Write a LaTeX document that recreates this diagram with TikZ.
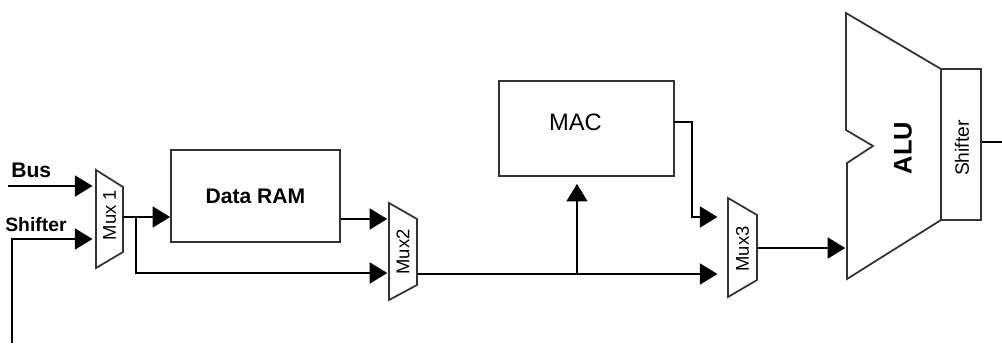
\documentclass[tikz,border=0pt]{standalone}
\usepackage{fontspec}
\setmainfont{Liberation Sans}
\usetikzlibrary{arrows.meta,positioning}

\begin{document}
\begin{tikzpicture}[x=0.02cm, y=-0.02cm,
    sig/.style={draw=black, line width=0.9pt, -{Triangle[length=10pt, width=12pt]}},
    wire/.style={draw=black, line width=0.9pt},
    unit/.style={rectangle, draw=black!80, line width=1pt, inner sep=0pt},
    muxshape/.style={draw=black!80, line width=1pt, line join=miter},
    muxlabel/.style={rotate=90, font=\fontsize{10.5}{11}\selectfont, inner sep=0pt},
    inlabel/.style={font=\fontsize{12}{14}\selectfont\bfseries, inner sep=0pt}
]
\useasboundingbox (0,0) rectangle (1002,346);

% input labels
\node[inlabel, anchor=base west] (buslbl) at (11,177) {Bus};
\node[inlabel, font=\fontsize{11}{13}\selectfont\bfseries, anchor=base west] (shiftlbl) at (5,231) {Shifter};

% multiplexers
\draw[muxshape] (96,170) -- (123,187) -- (123,252) -- (96,268) -- cycle;
\node[muxlabel] (mux1) at (109.5,215) {Mux 1};
\coordinate (mux1in1) at (96,186);
\coordinate (mux1in2) at (96,239);
\coordinate (mux1out) at (123,217);

\draw[muxshape] (389,203) -- (417,219) -- (417,285) -- (389,300) -- cycle;
\node[muxlabel] (mux2) at (403,252) {Mux2};
\coordinate (mux2in1) at (389,219);
\coordinate (mux2in2) at (389,273);
\coordinate (mux2out) at (417,274);

\draw[muxshape] (728,198) -- (757,215) -- (757,280) -- (728,297) -- cycle;
\node[muxlabel] (mux3) at (742.5,249) {Mux3};
\coordinate (mux3in1) at (728,217);
\coordinate (mux3in2) at (728,274);
\coordinate (mux3out) at (757,248);

% units
\node[unit, minimum width=3.38cm, minimum height=1.84cm,
      font=\fontsize{12}{14}\selectfont\bfseries] (ram) at (255.5,196) {Data RAM};
\node[unit, minimum width=3.5cm, minimum height=1.9cm] (mac) at (586.5,128.5) {};
\node[font=\fontsize{13.5}{15}\selectfont, inner sep=0pt] (maclbl) at (575.5,122.5) {MAC};

% ALU with output shifter
\draw[muxshape] (846,13) -- (941,69) -- (941,220) -- (847,279) -- (847,163)
    -- (873,146) -- (846,130) -- cycle;
\node[rotate=90, font=\fontsize{14.5}{16}\selectfont\bfseries, inner sep=0pt] (alu) at (903,148) {ALU};
\coordinate (aluin) at (847,248);
\node[unit, minimum width=0.8cm, minimum height=3.02cm] (shft) at (961,144.5) {};
\node[rotate=90, font=\fontsize{11}{12}\selectfont, inner sep=0pt] (shftlbl) at (962,148) {Shifter};

% connections
\coordinate (busin) at (8,186);
\coordinate (fbin) at (12,343);
\coordinate (br1) at (136,217);
\coordinate (br2) at (577,274);
\coordinate (macout) at (674,122);
\coordinate (shout) at (1002,142);

\draw[sig, shorten >=2pt] (busin) -- (mux1in1);
\draw[sig, shorten >=2pt] (fbin) |- (mux1in2);
\draw[sig] (mux1out) -- (mux1out -| ram.west);
\draw[sig, shorten >=1pt] (br1) |- (mux2in2);
\draw[sig, shorten >=1pt] (mux2in1 -| ram.east) -- (mux2in1);
\draw[sig, shorten >=6pt] (mux2out) -- (mux3in2);
\draw[sig, shorten >=4pt] (br2) -- (br2 |- mac.south);
\draw[sig, shorten >=6pt] (macout) -- ++(18,0) |- (mux3in1);
\draw[sig, shorten >=1pt] (mux3out) -- (aluin);
\draw[wire] (shft.east |- shout) -- (shout);

\end{tikzpicture}
\end{document}
